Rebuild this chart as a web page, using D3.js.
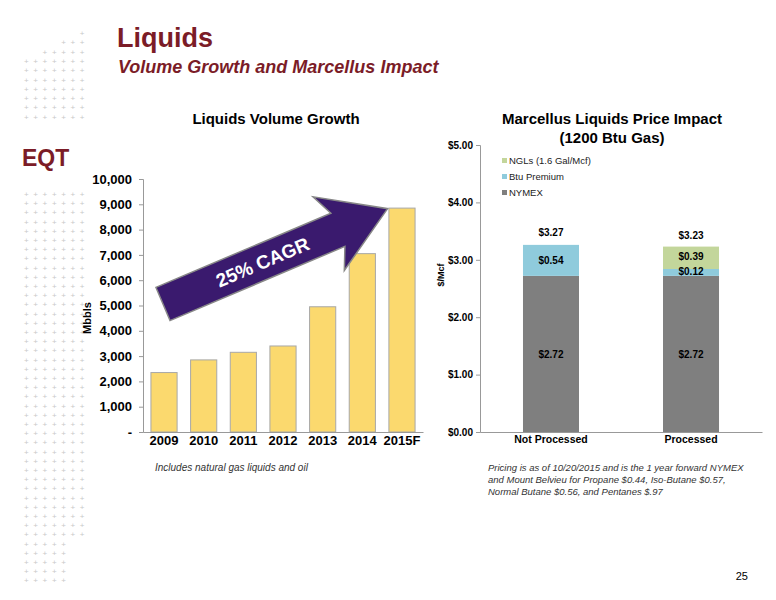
<!DOCTYPE html><html><head><meta charset="utf-8"><script src="https://d3js.org/d3.v7.min.js"></script>
<style>body{margin:0;background:#fff}text{font-family:Arial,"Liberation Sans",sans-serif}</style></head><body><svg id="c" width="776" height="600"></svg>
<script>
const years=["2009","2010","2011","2012","2013","2014","2015F"];
const volumes=[2350,2850,3150,3400,4950,7050,8850];
const volTicks=[0,1000,2000,3000,4000,5000,6000,7000,8000,9000,10000];
const priceCats=["Not Processed","Processed"];
const seriesNames=["NYMEX","Btu Premium","NGLs (1.6 Gal/Mcf)"];
const nymex=[2.72,2.72];
const btu=[0.54,0.12];
const ngl=[0,0.39];
const totals=[3.27,3.23];
const priceTicks=[0,1,2,3,4,5];
const svg=d3.select("#c");
const maroon="#7b1c27";
const dots=svg.append("g").attr("fill","#c8c8c8").attr("font-size",8);
for(let r=0;r<10;r++)for(let c=0;c<7;c++){const y=36+r*9.3;const x=24+c*9.3; if(r<3&&c<6-r*2)continue; dots.append("text").attr("x",x).attr("y",y).text("+");}
for(let r=0;r<44;r++)for(let c=0;c<7;c++){const y=197+r*9.2;if(y>592)continue;const x=24+c*9.3; if(y>540&&c>4)continue; dots.append("text").attr("x",x).attr("y",y).text("+");}
svg.append("text").attr("x",22).attr("y",166).attr("font-size",23).attr("font-weight","bold").attr("fill",maroon).attr("font-family","Liberation Serif,serif").text("EQT");
svg.append("text").attr("x",117).attr("y",47).attr("font-size",27).attr("font-weight","bold").attr("fill",maroon).text("Liquids");
svg.append("text").attr("x",118).attr("y",73).attr("font-size",18).attr("font-weight","bold").attr("font-style","italic").attr("fill",maroon).text("Volume Growth and Marcellus Impact");
const x=d3.scaleBand().domain(years).range([143,423]).paddingInner(0.34).paddingOuter(0.2);
const y=d3.scaleLinear().domain([0,10000]).range([432,179]);
svg.append("text").attr("x",276).attr("y",124).attr("text-anchor","middle").attr("font-size",15).attr("font-weight","bold").text("Liquids Volume Growth");
svg.append("g").selectAll("rect").data(volumes).join("rect").attr("x",(d,i)=>x(years[i])).attr("y",d=>y(d)).attr("width",x.bandwidth()).attr("height",d=>432-y(d)).attr("fill","#fbd96e").attr("stroke","#a8a8a8").attr("stroke-width",1);
const ya=svg.append("g").attr("transform","translate(143,0)").call(d3.axisLeft(y).tickValues(volTicks).tickSize(4).tickFormat(d=>d===0?"-":d3.format(",")(d)));
ya.selectAll("text").attr("font-size",13).attr("font-weight","bold").attr("fill","#000").attr("dx",-4);
ya.selectAll("path,line").attr("stroke","#999");
const xa=svg.append("g").attr("transform","translate(0,432)").call(d3.axisBottom(x).tickSize(0));
xa.selectAll("text").attr("font-size",13).attr("font-weight","bold").attr("fill","#000").attr("dy",10);
xa.selectAll("path").attr("stroke","#999");
svg.append("text").attr("transform","translate(91,318) rotate(-90)").attr("text-anchor","middle").attr("font-size",11).attr("font-weight","bold").text("Mbbls");
svg.append("text").attr("x",155).attr("y",471).attr("font-size",10).attr("font-style","italic").attr("fill","#333").text("Includes natural gas liquids and oil");
const ag=svg.append("g").attr("transform","translate(163,304) rotate(-23)");
ag.append("path").attr("d","M0,-18 L190,-18 L180,-40 L244,0 L180,40 L190,18 L0,18 Z").attr("fill","#3a1a6e").attr("stroke","#888").attr("stroke-width",1.5);
ag.append("text").attr("x",108).attr("y",7).attr("text-anchor","middle").attr("font-size",19).attr("font-weight","bold").attr("fill","#fff").text("25% CAGR");
const x2=d3.scaleBand().domain(priceCats).range([480,762]).paddingInner(0.6).paddingOuter(0.307);
const y2=d3.scaleLinear().domain([0,5]).range([432,145]);
svg.append("text").attr("x",612).attr("y",124).attr("text-anchor","middle").attr("font-size",15).attr("font-weight","bold").text("Marcellus Liquids Price Impact");
svg.append("text").attr("x",612).attr("y",143).attr("text-anchor","middle").attr("font-size",15).attr("font-weight","bold").text("(1200 Btu Gas)");
const colors=["#7f7f7f","#8fcbdc","#c3d69b"];
const stacks=[nymex,btu,ngl];
priceCats.forEach((c,i)=>{let base=0;stacks.forEach((s,k)=>{if(s[i]>0){svg.append("rect").attr("x",x2(c)).attr("width",x2.bandwidth()).attr("y",y2(base+s[i])).attr("height",y2(base)-y2(base+s[i])).attr("fill",colors[k]);}base+=s[i];});});
const lab=(xx,yy,t)=>svg.append("text").attr("x",xx).attr("y",yy).attr("text-anchor","middle").attr("font-size",10).attr("font-weight","bold").text(t);
priceCats.forEach((c,i)=>{const cx=x2(c)+x2.bandwidth()/2;lab(cx,y2(nymex[i]/2)+4,"$"+nymex[i].toFixed(2));lab(cx,y2(totals[i])-8,"$"+totals[i].toFixed(2));});
lab(x2("Not Processed")+x2.bandwidth()/2,y2(2.72+0.27)+4,"$0.54");
lab(x2("Processed")+x2.bandwidth()/2,y2(2.84+0.22)+4,"$0.39");
lab(x2("Processed")+x2.bandwidth()/2,y2(2.72)-1,"$0.12");
const ya2=svg.append("g").attr("transform","translate(480,0)").call(d3.axisLeft(y2).tickValues(priceTicks).tickSize(4).tickFormat(d=>"$"+d.toFixed(2)));
ya2.selectAll("text").attr("font-size",10).attr("font-weight","bold").attr("fill","#000");
ya2.selectAll("path,line").attr("stroke","#999");
const xa2=svg.append("g").attr("transform","translate(0,432)").call(d3.axisBottom(x2).tickSize(0));
xa2.selectAll("text").attr("font-size",10.5).attr("font-weight","bold").attr("fill","#000").attr("dy",8);
xa2.selectAll("path").attr("stroke","#999");
svg.append("text").attr("transform","translate(444,275) rotate(-90)").attr("text-anchor","middle").attr("font-size",9).attr("font-weight","bold").text("$/Mcf");
[2,1,0].forEach((k,j)=>{const yy=164+j*16;svg.append("rect").attr("x",502).attr("y",yy-6).attr("width",5).attr("height",5).attr("fill",colors[k]);svg.append("text").attr("x",509).attr("y",yy).attr("font-size",9.5).attr("fill","#222").text(seriesNames[k]);});
["Pricing is as of 10/20/2015 and is the 1 year forward NYMEX","and Mount Belvieu for Propane $0.44, Iso-Butane $0.57,","Normal Butane $0.56, and Pentanes $.97"].forEach((t,i)=>svg.append("text").attr("x",488).attr("y",471+i*12).attr("font-size",9.5).attr("font-style","italic").attr("fill","#333").text(t));
svg.append("text").attr("x",748).attr("y",580).attr("text-anchor","end").attr("font-size",11).text("25");
</script></body></html>
